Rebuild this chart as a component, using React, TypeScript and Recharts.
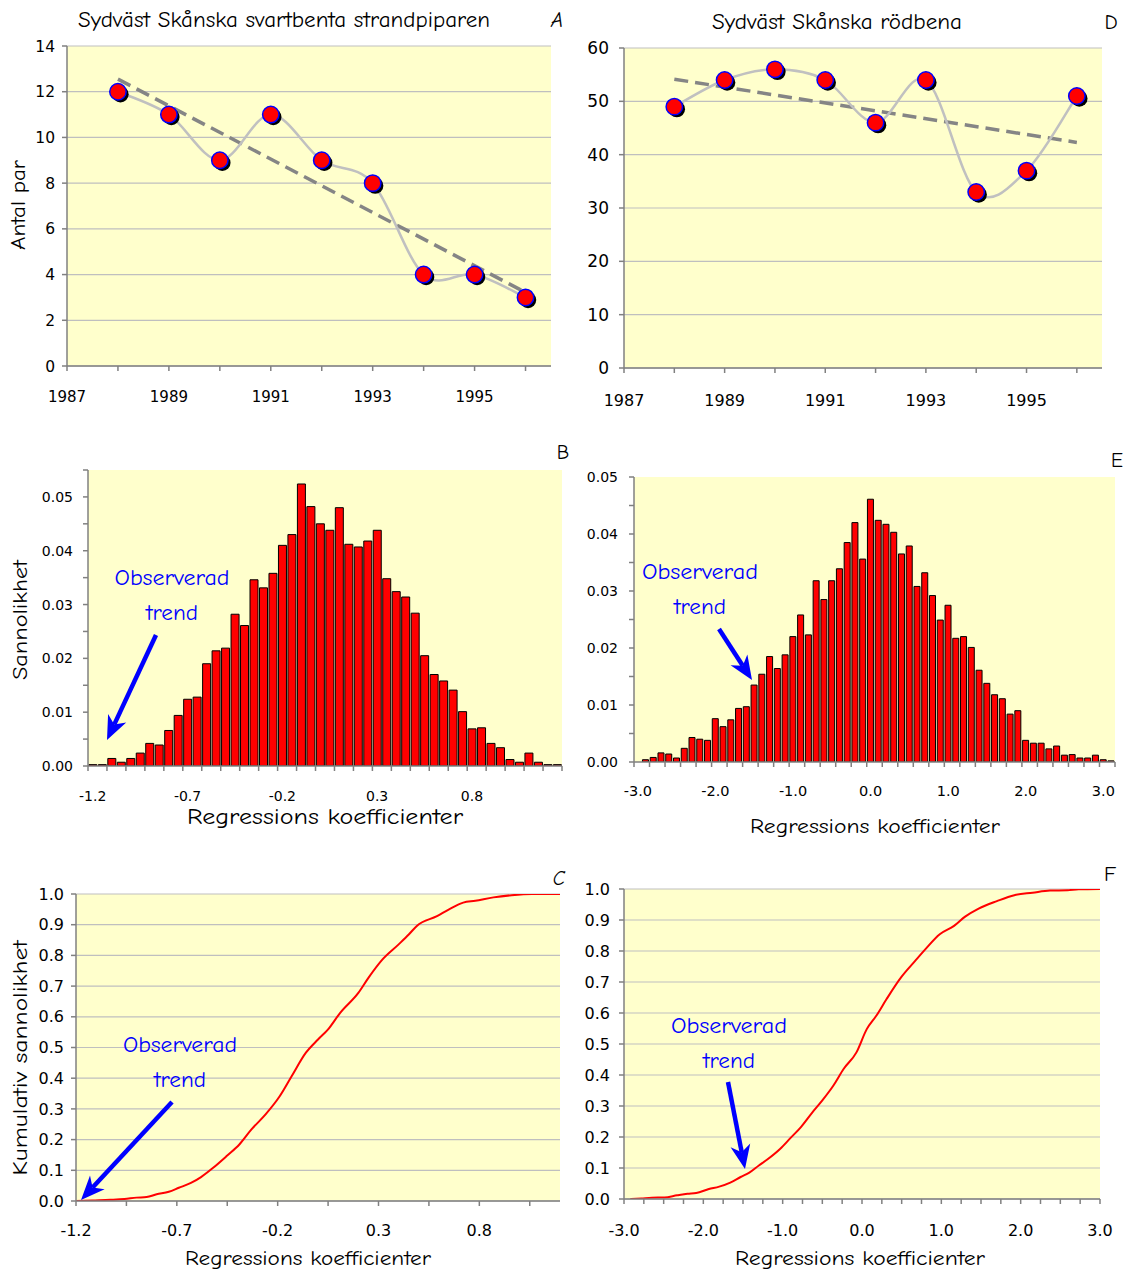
import React from 'react';
import { LineChart, Line, BarChart, Bar, XAxis, YAxis, CartesianGrid } from 'recharts';

const COMIC = "'Comic Sans MS', 'Comic Neue', 'DejaVu Sans', sans-serif";
const TICKF = "'DejaVu Sans', Verdana, sans-serif";
const BG = '#FFFFCC';
const AXIS = '#808080';
const GRID = '#BFBFBF';
const BLUE = '#0000FF';

// ---------- Panel A / D: yearly counts ----------
const years = [1988, 1989, 1990, 1991, 1992, 1993, 1994, 1995, 1996];
const yearTicks = [1987, 1988, 1989, 1990, 1991, 1992, 1993, 1994, 1995, 1996];
const pairsA = [12, 11, 9, 11, 9, 8, 4, 4, 3];
const trendA = [12.55, 3.22];
const pairsD = [49, 54, 56, 54, 46, 54, 33, 37, 51];
const trendD = [54.15, 42.3];
const yTicksA = [0, 2, 4, 6, 8, 10, 12, 14];
const yTicksD = [0, 10, 20, 30, 40, 50, 60];

// ---------- Panel B: histogram (svartbenta strandpiparen) ----------
const binsB = [
  -1.2, -1.15, -1.1, -1.05, -1.0, -0.95, -0.9, -0.85, -0.8, -0.75,
  -0.7, -0.65, -0.6, -0.55, -0.5, -0.45, -0.4, -0.35, -0.3, -0.25,
  -0.2, -0.15, -0.1, -0.05, 0.0, 0.05, 0.1, 0.15, 0.2, 0.25,
  0.3, 0.35, 0.4, 0.45, 0.5, 0.55, 0.6, 0.65, 0.7, 0.75,
  0.8, 0.85, 0.9, 0.95, 1.0, 1.05, 1.1, 1.15, 1.2, 1.25,
];
const probB = [
  0.00025, 0.00025, 0.0014, 0.0007, 0.0014, 0.0024, 0.0042, 0.0039, 0.0066, 0.0094,
  0.0124, 0.0128, 0.019, 0.0214, 0.0219, 0.0282, 0.0261, 0.0346, 0.0331, 0.0358,
  0.041, 0.043, 0.0524, 0.0482, 0.045, 0.0438, 0.048, 0.0412, 0.0407, 0.0418,
  0.0438, 0.0348, 0.0324, 0.0314, 0.0284, 0.0205, 0.017, 0.0158, 0.0141, 0.0101,
  0.0069, 0.0071, 0.0042, 0.0034, 0.0012, 0.0007, 0.0024, 0.0007, 0.00025, 0.00025,
];
const yTicksB = [0, 0.005, 0.01, 0.015, 0.02, 0.025, 0.03, 0.035, 0.04, 0.045, 0.05, 0.055];

// ---------- Panel E: histogram (rödbena) ----------
const binsE = [
  -3.0, -2.9, -2.8, -2.7, -2.6, -2.5, -2.4, -2.3, -2.2, -2.1,
  -2.0, -1.9, -1.8, -1.7, -1.6, -1.5, -1.4, -1.3, -1.2, -1.1,
  -1.0, -0.9, -0.8, -0.7, -0.6, -0.5, -0.4, -0.3, -0.2, -0.1,
  0.0, 0.1, 0.2, 0.3, 0.4, 0.5, 0.6, 0.7, 0.8, 0.9,
  1.0, 1.1, 1.2, 1.3, 1.4, 1.5, 1.6, 1.7, 1.8, 1.9,
  2.0, 2.1, 2.2, 2.3, 2.4, 2.5, 2.6, 2.7, 2.8, 2.9,
  3.0, 3.1,
];
const probE = [
  0, 0.0004, 0.0008, 0.0016, 0.0014, 0.0007, 0.0024, 0.0043, 0.004, 0.0038,
  0.0076, 0.0062, 0.0074, 0.0094, 0.0097, 0.0135, 0.0154, 0.0185, 0.0164, 0.0188,
  0.022, 0.0258, 0.0223, 0.0318, 0.0285, 0.0318, 0.0339, 0.0385, 0.042, 0.0356,
  0.0461, 0.0424, 0.0417, 0.0403, 0.0365, 0.0379, 0.0308, 0.0332, 0.0292, 0.0249,
  0.0275, 0.0217, 0.022, 0.0201, 0.0161, 0.0138, 0.0118, 0.0111, 0.0084, 0.009,
  0.0038, 0.0033, 0.0033, 0.0023, 0.0028, 0.0012, 0.0013, 0.0007, 0.0007, 0.0012,
  0.0004, 0.0002,
];
const yTicksE = [0, 0.005, 0.01, 0.015, 0.02, 0.025, 0.03, 0.035, 0.04, 0.045, 0.05];

// ---------- Panel C: cumulative (svartbenta strandpiparen) ----------
const cumCx = [-1.2, -1.12, -1.03, -0.96, -0.9, -0.85, -0.8, -0.74, -0.69, -0.63, -0.58, -0.52, -0.45, -0.39, -0.33, -0.26, -0.19, -0.13, -0.06, 0.0, 0.05, 0.11, 0.2, 0.25, 0.32, 0.4, 0.45, 0.49, 0.59, 0.65, 0.72, 0.78, 0.87, 0.96, 1.06, 1.2];
const cumCy = [0, 0.002, 0.004, 0.0065, 0.011, 0.013, 0.022, 0.03, 0.043, 0.059, 0.078, 0.108, 0.148, 0.184, 0.233, 0.282, 0.341, 0.407, 0.483, 0.526, 0.559, 0.613, 0.678, 0.727, 0.787, 0.836, 0.868, 0.896, 0.928, 0.95, 0.972, 0.978, 0.989, 0.996, 1.0, 1.0];
const xTicksC = [-1.2, -0.95, -0.7, -0.45, -0.2, 0.05, 0.3, 0.55, 0.8, 1.05];

// ---------- Panel F: cumulative (rödbena) ----------
const cumFx = [-2.92, -2.78, -2.65, -2.49, -2.33, -2.2, -2.09, -1.93, -1.8, -1.66, -1.53, -1.42, -1.3, -1.19, -1.03, -0.9, -0.77, -0.63, -0.5, -0.36, -0.23, -0.07, 0.06, 0.18, 0.31, 0.49, 0.67, 0.8, 0.98, 1.16, 1.3, 1.47, 1.7, 1.92, 2.15, 2.37, 2.59, 2.73, 3.0];
const cumFy = [0, 0.002, 0.004, 0.005, 0.012, 0.017, 0.0195, 0.032, 0.04, 0.053, 0.071, 0.085, 0.108, 0.128, 0.162, 0.197, 0.232, 0.278, 0.318, 0.366, 0.42, 0.473, 0.548, 0.591, 0.645, 0.714, 0.768, 0.806, 0.854, 0.881, 0.911, 0.937, 0.961, 0.98, 0.988, 0.995, 0.996, 0.999, 1.0];
const xTicksF = [-3, -2.75, -2.5, -2.25, -2, -1.75, -1.5, -1.25, -1, -0.75, -0.5, -0.25, 0, 0.25, 0.5, 0.75, 1, 1.25, 1.5, 1.75, 2, 2.25, 2.5, 2.75, 3];
const cumTicks = [0, 0.1, 0.2, 0.3, 0.4, 0.5, 0.6, 0.7, 0.8, 0.9, 1.0];

// ---------- derived rows ----------
const rowsFor = (vals: number[], trend: number[]) =>
  years.map((year, i) => ({
    year,
    pairs: vals[i],
    trend: i === 0 ? trend[0] : i === years.length - 1 ? trend[1] : null,
  }));
const rowsA = rowsFor(pairsA, trendA);
const rowsD = rowsFor(pairsD, trendD);
const rowsB = binsB.map((bin, i) => ({ bin, p: probB[i] }));
const rowsE = binsE.map((bin, i) => ({ bin, p: probE[i] }));
const rowsC = cumCx.map((x, i) => ({ x, y: cumCy[i] }));
const rowsF = cumFx.map((x, i) => ({ x, y: cumFy[i] }));

// Catmull-Rom smoothing, similar to Excel's "smoothed line"
const smoothCurve: any = (context: any) => {
  let pts: number[][] = [];
  return {
    areaStart() {},
    areaEnd() {},
    lineStart() {
      pts = [];
    },
    point(x: number, y: number) {
      pts.push([+x, +y]);
    },
    lineEnd() {
      if (!pts.length) return;
      context.moveTo(pts[0][0], pts[0][1]);
      for (let i = 0; i < pts.length - 1; i++) {
        const p0 = pts[i - 1] || pts[i];
        const p1 = pts[i];
        const p2 = pts[i + 1];
        const p3 = pts[i + 2] || p2;
        context.bezierCurveTo(
          p1[0] + (p2[0] - p0[0]) / 6,
          p1[1] + (p2[1] - p0[1]) / 6,
          p2[0] - (p3[0] - p1[0]) / 6,
          p2[1] - (p3[1] - p1[1]) / 6,
          p2[0],
          p2[1]
        );
      }
    },
  };
};

const renderMarker = (props: any) => {
  const { cx, cy, index } = props;
  if (cx == null || cy == null) return <g key={`m${index}`} />;
  return (
    <g key={`m${index}`}>
      <circle cx={cx + 2.5} cy={cy + 2.5} r={8.2} fill="#000" />
      <circle cx={cx} cy={cy} r={8.2} fill="#FF0000" stroke={BLUE} strokeWidth={1.5} />
    </g>
  );
};

const makeHistTick = (n: number, bandFallback: number, labelDy: number, fontSize: number) => (props: any) => {
  const { x, y, payload } = props;
  const i = props.index ?? payload?.index ?? 0;
  const half = payload && payload.offset ? payload.offset : bandFallback / 2;
  const left = x - half;
  return (
    <g key={`ht${i}`}>
      {i % 2 === 0 && <line x1={left} y1={y} x2={left} y2={y + 5} stroke={AXIS} strokeWidth={1.5} />}
      {i === n - 1 && n % 2 === 0 && (
        <line x1={x + half} y1={y} x2={x + half} y2={y + 5} stroke={AXIS} strokeWidth={1.5} />
      )}
      {i % 10 === 0 && (
        <text x={x} y={y + labelDy} textAnchor="middle" dominantBaseline="central" fontSize={fontSize} fontFamily={TICKF} fill="#000">
          {Number(payload.value).toFixed(1)}
        </text>
      )}
    </g>
  );
};

const tickStyle = (size: number) => ({ fill: '#000', fontSize: size, fontFamily: TICKF });

const Arrow = ({ x1, y1, x2, y2 }: { x1: number; y1: number; x2: number; y2: number }) => {
  const dx = x2 - x1;
  const dy = y2 - y1;
  const len = Math.hypot(dx, dy);
  const ux = dx / len;
  const uy = dy / len;
  const headLen = 24;
  const headW = 10;
  const bx = x2 - ux * headLen;
  const by = y2 - uy * headLen;
  const px = -uy;
  const py = ux;
  const nx = bx + ux * 7;
  const ny = by + uy * 7;
  return (
    <g>
      <line x1={x1} y1={y1} x2={nx} y2={ny} stroke={BLUE} strokeWidth={4.5} />
      <polygon
        points={`${x2},${y2} ${bx + px * headW},${by + py * headW} ${nx},${ny} ${bx - px * headW},${by - py * headW}`}
        fill={BLUE}
      />
    </g>
  );
};

const T = (p: any) => {
  const { children, ...rest } = p;
  return (
    <text fontFamily={COMIC} fill="#000" dominantBaseline="central" lengthAdjust="spacingAndGlyphs" {...rest}>
      {children}
    </text>
  );
};

const Box = ({ left, top, children }: any) => (
  <div style={{ position: 'absolute', left, top }}>{children}</div>
);

export default function App() {
  return (
    <div style={{ position: 'absolute', left: 0, top: 0, width: 1127, height: 1272, background: '#fff', overflow: 'hidden' }}>
      {/* Panel A */}
      <Box left={0} top={0}>
        <LineChart width={570} height={420} data={rowsA} margin={{ top: 46, right: 19, left: 17, bottom: 24 }}>
          <CartesianGrid vertical={false} stroke={GRID} fill={BG} strokeWidth={1.2} />
          <XAxis dataKey="year" type="number" domain={[1987, 1996.5]} ticks={yearTicks} allowDataOverflow
            tickFormatter={(v: number) => (v % 2 === 1 ? String(v) : '')} height={30} tickSize={5} tickMargin={20}
            stroke={AXIS} strokeWidth={1.5} tick={tickStyle(15)} interval={0} />
          <YAxis domain={[0, 14]} ticks={yTicksA} width={50} tickSize={5} tickMargin={7} stroke={AXIS} strokeWidth={1.5}
            tick={tickStyle(15.5)} interval={0} allowDataOverflow />
          <Line dataKey="trend" connectNulls stroke="#858585" strokeWidth={3.5} strokeDasharray="14 7" dot={false}
            activeDot={false} isAnimationActive={false} />
          <Line dataKey="pairs" type={smoothCurve} stroke="#C0C0C0" strokeWidth={2.5} dot={renderMarker}
            activeDot={false} isAnimationActive={false} />
        </LineChart>
      </Box>

      {/* Panel D */}
      <Box left={570} top={0}>
        <LineChart width={557} height={420} data={rowsD} margin={{ top: 48, right: 25, left: 14, bottom: 22 }}>
          <CartesianGrid vertical={false} stroke={GRID} fill={BG} strokeWidth={1.2} />
          <XAxis dataKey="year" type="number" domain={[1987, 1996.5]} ticks={yearTicks} allowDataOverflow
            tickFormatter={(v: number) => (v % 2 === 1 ? String(v) : '')} height={30} tickSize={5} tickMargin={22}
            stroke={AXIS} strokeWidth={1.5} tick={tickStyle(16)} interval={0} />
          <YAxis domain={[0, 60]} ticks={yTicksD} width={40} tickSize={5} tickMargin={10} stroke={AXIS} strokeWidth={1.5}
            tick={tickStyle(17)} interval={0} allowDataOverflow />
          <Line dataKey="trend" connectNulls stroke="#858585" strokeWidth={3.5} strokeDasharray="14 7" dot={false}
            activeDot={false} isAnimationActive={false} />
          <Line dataKey="pairs" type={smoothCurve} stroke="#C0C0C0" strokeWidth={2.5} dot={renderMarker}
            activeDot={false} isAnimationActive={false} />
        </LineChart>
      </Box>

      {/* Panel B */}
      <Box left={0} top={440}>
        <BarChart width={570} height={390} data={rowsB} barCategoryGap="9%" margin={{ top: 30, right: 8, left: 28, bottom: 30 }}>
          <CartesianGrid vertical={false} horizontal={false} fill={BG} />
          <XAxis dataKey="bin" type="category" interval={0} tickLine={false} tickSize={0} tickMargin={0} height={34}
            stroke={AXIS} strokeWidth={1.5} tick={makeHistTick(binsB.length, 474 / 50, 30, 14)} />
          <YAxis domain={[0, 0.055]} ticks={yTicksB} width={60} tickSize={5} tickMargin={10} stroke={AXIS} strokeWidth={1.5}
            tick={tickStyle(14)} interval={0} allowDataOverflow
            tickFormatter={(v: number) => (Math.round(v * 1000) % 10 === 0 ? v.toFixed(2) : '')} />
          <Bar dataKey="p" fill="#FF0000" stroke="#000" strokeWidth={1} isAnimationActive={false} />
        </BarChart>
      </Box>

      {/* Panel E */}
      <Box left={570} top={440}>
        <BarChart width={557} height={400} data={rowsE} barCategoryGap="9%" margin={{ top: 37, right: 12, left: 14, bottom: 44 }}>
          <CartesianGrid vertical={false} horizontal={false} fill={BG} />
          <XAxis dataKey="bin" type="category" interval={0} tickLine={false} tickSize={0} tickMargin={0} height={34}
            stroke={AXIS} strokeWidth={1.5} tick={makeHistTick(binsE.length, 481 / 62, 29, 14.5)} />
          <YAxis domain={[0, 0.05]} ticks={yTicksE} width={50} tickSize={5} tickMargin={11} stroke={AXIS} strokeWidth={1.5}
            tick={tickStyle(14)} interval={0} allowDataOverflow
            tickFormatter={(v: number) => (Math.round(v * 1000) % 10 === 0 ? v.toFixed(2) : '')} />
          <Bar dataKey="p" fill="#FF0000" stroke="#000" strokeWidth={1} isAnimationActive={false} />
        </BarChart>
      </Box>

      {/* Panel C */}
      <Box left={0} top={860}>
        <LineChart width={570} height={412} data={rowsC} margin={{ top: 34, right: 10, left: 26, bottom: 41 }}>
          <CartesianGrid vertical={false} stroke={GRID} fill={BG} strokeWidth={1.2} />
          <XAxis dataKey="x" type="number" domain={[-1.2, 1.2]} ticks={xTicksC} allowDataOverflow interval={0}
            tickFormatter={(v: number, i: number) => (i % 2 === 0 ? v.toFixed(1) : '')} height={30} tickSize={5}
            tickMargin={19} stroke={AXIS} strokeWidth={1.5} tick={tickStyle(16)} />
          <YAxis domain={[0, 1]} ticks={cumTicks} width={50} tickSize={5} tickMargin={7} stroke={AXIS} strokeWidth={1.5}
            tick={tickStyle(16)} interval={0} allowDataOverflow tickFormatter={(v: number) => v.toFixed(1)} />
          <Line dataKey="y" type="monotone" stroke="#FF0000" strokeWidth={2} dot={false} activeDot={false} isAnimationActive={false} />
        </LineChart>
      </Box>

      {/* Panel F */}
      <Box left={570} top={860}>
        <LineChart width={557} height={412} data={rowsF} margin={{ top: 29, right: 27, left: 10, bottom: 43 }}>
          <CartesianGrid vertical={false} stroke={GRID} fill={BG} strokeWidth={1.2} />
          <XAxis dataKey="x" type="number" domain={[-3, 3]} ticks={xTicksF} allowDataOverflow interval={0}
            tickFormatter={(v: number) => (Math.abs(v - Math.round(v)) < 1e-9 ? v.toFixed(1) : '')} height={30} tickSize={5}
            tickMargin={21} stroke={AXIS} strokeWidth={1.5} tick={tickStyle(16)} />
          <YAxis domain={[0, 1]} ticks={cumTicks} width={44} tickSize={5} tickMargin={9} stroke={AXIS} strokeWidth={1.5}
            tick={tickStyle(16)} interval={0} allowDataOverflow tickFormatter={(v: number) => v.toFixed(1)} />
          <Line dataKey="y" type="monotone" stroke="#FF0000" strokeWidth={2} dot={false} activeDot={false} isAnimationActive={false} />
        </LineChart>
      </Box>

      {/* Annotation overlay */}
      <svg width={1127} height={1272} style={{ position: 'absolute', left: 0, top: 0, pointerEvents: 'none' }}>
        <T x={284} y={20} textAnchor="middle" fontSize={21.5} textLength={412}>Sydväst Skånska svartbenta strandpiparen</T>
        <T x={557} y={20} textAnchor="middle" fontSize={21} fontStyle="italic">A</T>
        <T x={837} y={22} textAnchor="middle" fontSize={21.5} textLength={250}>Sydväst Skånska rödbena</T>
        <T x={1111} y={22} textAnchor="middle" fontSize={21}>D</T>
        <T x={563} y={452} textAnchor="middle" fontSize={20}>B</T>
        <T x={1117} y={460} textAnchor="middle" fontSize={20}>E</T>
        <T x={559} y={878} textAnchor="middle" fontSize={20} fontStyle="italic">C</T>
        <T x={1110} y={874} textAnchor="middle" fontSize={21}>F</T>

        <T x={18} y={205} textAnchor="middle" fontSize={21} textLength={90} transform="rotate(-90 18 205)">Antal par</T>
        <T x={20} y={620} textAnchor="middle" fontSize={21} textLength={120} transform="rotate(-90 20 620)">Sannolikhet</T>
        <T x={20} y={1058} textAnchor="middle" fontSize={20} textLength={235} transform="rotate(-90 20 1058)">Kumulativ sannolikhet</T>

        <T x={325} y={817} textAnchor="middle" fontSize={22} textLength={276}>Regressions koefficienter</T>
        <T x={875} y={826} textAnchor="middle" fontSize={20} textLength={250}>Regressions koefficienter</T>
        <T x={308} y={1258} textAnchor="middle" fontSize={20} textLength={246}>Regressions koefficienter</T>
        <T x={860} y={1258} textAnchor="middle" fontSize={20} textLength={250}>Regressions koefficienter</T>

        <T x={172} y={578} textAnchor="middle" fontSize={22} fill={BLUE} textLength={115}>Observerad</T>
        <T x={172} y={613} textAnchor="middle" fontSize={22} fill={BLUE} textLength={52}>trend</T>
        <T x={700} y={572} textAnchor="middle" fontSize={22} fill={BLUE} textLength={116}>Observerad</T>
        <T x={700} y={607} textAnchor="middle" fontSize={22} fill={BLUE} textLength={52}>trend</T>
        <T x={180} y={1045} textAnchor="middle" fontSize={22} fill={BLUE} textLength={114}>Observerad</T>
        <T x={180} y={1080} textAnchor="middle" fontSize={22} fill={BLUE} textLength={52}>trend</T>
        <T x={729} y={1026} textAnchor="middle" fontSize={22} fill={BLUE} textLength={116}>Observerad</T>
        <T x={729} y={1061} textAnchor="middle" fontSize={22} fill={BLUE} textLength={52}>trend</T>

        <Arrow x1={156} y1={635} x2={107} y2={740} />
        <Arrow x1={719} y1={629} x2={752} y2={680} />
        <Arrow x1={172} y1={1102} x2={81} y2={1200} />
        <Arrow x1={728} y1={1082} x2={745} y2={1169} />
      </svg>
    </div>
  );
}
